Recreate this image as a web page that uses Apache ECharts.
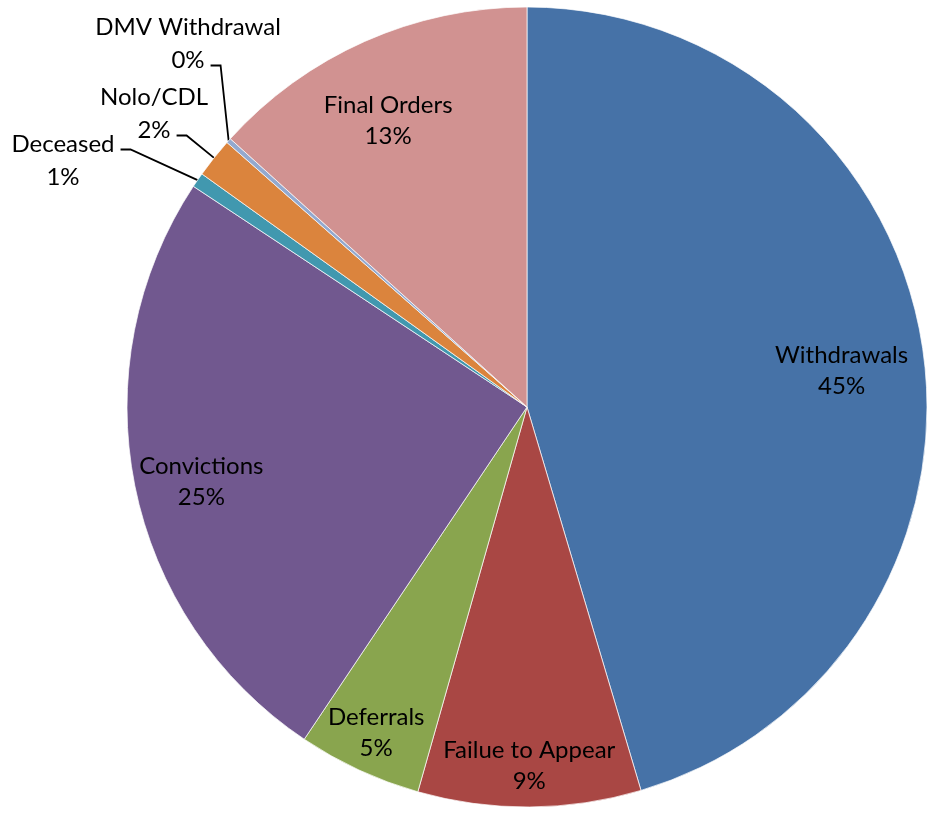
<!DOCTYPE html>
<html>
<head>
<meta charset="utf-8">
<script src="https://cdn.jsdelivr.net/npm/echarts@6/dist/echarts.min.js"></script>
<style>html,body{margin:0;padding:0;background:#fff}#c{width:932px;height:814px}</style>
</head>
<body>
<div id="c"></div>
<script>
var categories = ['Withdrawals', 'Failue to Appear', 'Deferrals', 'Convictions', 'Deceased', 'Nolo/CDL', 'DMV Withdrawal', 'Final Orders'];
var values = [45.4, 9.0, 5.0, 24.9, 0.6, 1.6, 0.2, 13.3];
var colors = ['#4672A7', '#A94744', '#89A54E', '#71588F', '#4198AF', '#DB843D', '#93A9CF', '#D19291'];
var outerLabelItems = ['Deceased', 'Nolo/CDL', 'DMV Withdrawal'];
var outerLabelCenters = [[63, 161], [154, 114], [188, 44]];
var outerLabelAttachRow = [0, 1, 1];
var labelGroupA = ['Withdrawals', 'Final Orders', 'Convictions'];
var labelGroupB = ['Deferrals', 'Failue to Appear'];

var FONT = 'Lato';
var FS = 24;
var LH_IN = 31, LH_OUT = 33;
var richIn = { t: { fontFamily: FONT, fontSize: FS, color: '#000', lineHeight: LH_IN, align: 'center' } };
var richOut = { t: { fontFamily: FONT, fontSize: FS, color: '#000', lineHeight: LH_OUT, align: 'center' } };

var mctx = document.createElement('canvas').getContext('2d');
mctx.font = FS + 'px ' + FONT;
function textW(s) { return mctx.measureText(s).width; }

function mainData() {
  return categories.map(function (c, i) {
    var outer = outerLabelItems.indexOf(c) >= 0;
    return {
      name: c, value: values[i],
      itemStyle: { color: colors[i] },
      label: { show: outer },
      labelLine: { show: outer }
    };
  });
}
function overlayData(group) {
  return categories.map(function (c, i) {
    return { name: c, value: values[i], label: { show: group.indexOf(c) >= 0 } };
  });
}
var chart = echarts.init(document.getElementById('c'), null, { renderer: 'canvas' });
var common = { type: 'pie', center: [527, 407], startAngle: 90, clockwise: true, animation: false, percentPrecision: 0 };
chart.setOption({
  backgroundColor: '#fff',
  series: [
    Object.assign({}, common, {
      radius: [0, 400],
      avoidLabelOverlap: false,
      itemStyle: { borderColor: '#fff', borderWidth: 0.7 },
      label: {
        position: 'outside',
        formatter: '{t|{b}}\n{t|{d}%}',
        rich: richOut,
        overflow: 'none',
        distanceToLabelLine: 4
      },
      labelLine: { length: 20, length2: 10, lineStyle: { color: '#000', width: 1.8 } },
      labelLayout: function (params) {
        var k = outerLabelItems.indexOf(categories[params.dataIndex]);
        if (k < 0) return {};
        var cx = outerLabelCenters[k][0], cy = outerLabelCenters[k][1];
        var lines = String(params.text).split('\n');
        var row = outerLabelAttachRow[k];
        var rowText = (lines[row] || '').replace(/\{t\||\}/g, '');
        var rowY = cy + (row === 0 ? -LH_OUT / 2 : LH_OUT / 2) + 5;
        var xs = cx + textW(rowText) / 2 + 6;
        var out = { x: cx, y: cy, align: 'center', verticalAlign: 'middle' };
        if (params.labelLinePoints && params.labelLinePoints[0]) {
          out.labelLinePoints = [[xs, rowY], [xs + 10, rowY], params.labelLinePoints[0]];
        }
        return out;
      },
      data: mainData()
    }),
    Object.assign({}, common, {
      radius: [244, 400], silent: true,
      itemStyle: { color: 'rgba(0,0,0,0)' },
      label: { position: 'inside', formatter: '{t|{b}}\n{t|{d}%}', rich: richIn, padding: [22, 14, 0, 0] },
      data: overlayData(labelGroupA)
    }),
    Object.assign({}, common, {
      radius: [312, 400], silent: true,
      itemStyle: { color: 'rgba(0,0,0,0)' },
      label: { position: 'inside', formatter: '{t|{b}}\n{t|{d}%}', rich: richIn },
      data: overlayData(labelGroupB)
    })
  ]
});
</script>
</body>
</html>
